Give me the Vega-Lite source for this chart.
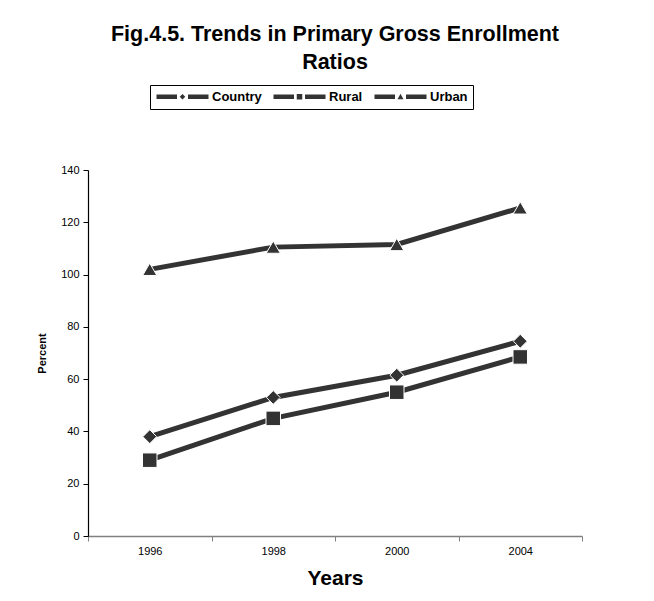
{
  "$schema": "https://vega.github.io/schema/vega-lite/v6.json",
  "width": 494,
  "height": 366,
  "autosize": {"type": "none"},
  "padding": {"left": 88, "top": 170, "right": 72, "bottom": 65},
  "background": "white",
  "title": {
    "text": ["Fig.4.5. Trends in Primary Gross Enrollment", "Ratios"],
    "font": "Liberation Sans",
    "fontSize": 21.5,
    "fontWeight": "bold",
    "lineHeight": 28,
    "color": "black",
    "anchor": "middle",
    "frame": "group",
    "offset": 11
  },
  "data": {
    "values": [
      {"year": "1996", "series": "Country", "value": 38},
      {"year": "1998", "series": "Country", "value": 53},
      {"year": "2000", "series": "Country", "value": 61.5},
      {"year": "2004", "series": "Country", "value": 74.5},
      {"year": "1996", "series": "Rural", "value": 29},
      {"year": "1998", "series": "Rural", "value": 45},
      {"year": "2000", "series": "Rural", "value": 55},
      {"year": "2004", "series": "Rural", "value": 68.5},
      {"year": "1996", "series": "Urban", "value": 102},
      {"year": "1998", "series": "Urban", "value": 110.5},
      {"year": "2000", "series": "Urban", "value": 111.5},
      {"year": "2004", "series": "Urban", "value": 125.5}
    ]
  },
  "encoding": {
    "x": {
      "field": "year",
      "type": "ordinal",
      "sort": null,
      "scale": {"paddingInner": 0, "paddingOuter": 0},
      "axis": {
        "title": "Years",
        "titleFont": "Liberation Sans",
        "titleFontSize": 21,
        "titleFontWeight": "bold",
        "titleColor": "black",
        "titlePadding": 11,
        "labelFont": "Liberation Sans",
        "labelFontSize": 11,
        "labelColor": "black",
        "labelAngle": 0,
        "labelPadding": 4,
        "tickBand": "extent",
        "tickSize": 5,
        "tickColor": "#808080",
        "domainColor": "#808080",
        "domainWidth": 1.5,
        "grid": false
      }
    },
    "y": {
      "field": "value",
      "type": "quantitative",
      "scale": {"domain": [0, 140], "nice": false},
      "axis": {
        "title": "Percent",
        "titleFont": "Liberation Sans",
        "titleFontSize": 11,
        "titleFontWeight": "bold",
        "titleColor": "black",
        "titlePadding": 13,
        "values": [0, 20, 40, 60, 80, 100, 120, 140],
        "labelFont": "Liberation Sans",
        "labelFontSize": 11,
        "labelColor": "black",
        "labelPadding": 4,
        "tickSize": 5,
        "tickColor": "black",
        "domainColor": "black",
        "domainWidth": 1.2,
        "grid": false
      }
    }
  },
  "layer": [
    {
      "mark": {"type": "line", "strokeWidth": 5},
      "encoding": {
        "color": {
          "field": "series",
          "type": "nominal",
          "scale": {"domain": ["Country", "Rural", "Urban"], "range": ["#333333", "#333333", "#333333"]},
          "legend": {
            "title": null,
            "orient": "none",
            "direction": "horizontal",
            "legendX": 62,
            "legendY": -85,
            "strokeColor": "black",
            "fillColor": "white",
            "padding": 5,
            "labelFont": "Liberation Sans",
            "labelFontSize": 13,
            "labelFontWeight": "bold",
            "labelColor": "black",
            "symbolSize": 100,
            "symbolType": "square",
            "symbolFillColor": "#333333",
            "symbolStrokeWidth": 0,
            "symbolOffset": 21,
            "labelOffset": 23,
            "columnPadding": 10,
            "encode": {
              "symbols": {
                "update": {
                  "shape": {"signal": "datum.value === 'Country' ? 'M-5.2,-0.45H-1.1V0.45H-5.2Z M1.1,-0.45H5.2V0.45H1.1Z M0,-0.55L0.55,0L0,0.55L-0.55,0Z' : datum.value === 'Rural' ? 'M-5.2,-0.45H-1.1V0.45H-5.2Z M1.1,-0.45H5.2V0.45H1.1Z M-0.55,-0.55H0.55V0.55H-0.55Z' : 'M-5.2,-0.45H-1.1V0.45H-5.2Z M1.1,-0.45H5.2V0.45H1.1Z M0,-0.6L0.6,0.5H-0.6Z'"},
                  "fill": {"value": "#333333"},
                  "strokeWidth": {"value": 0}
                }
              }
            }
          }
        }
      }
    },
    {
      "transform": [{"filter": "datum.series === 'Country'"}],
      "mark": {"type": "point", "shape": "diamond", "filled": true, "opacity": 1, "fill": "#333333", "stroke": "white", "strokeWidth": 1, "size": 190}
    },
    {
      "transform": [{"filter": "datum.series === 'Rural'"}],
      "mark": {"type": "point", "shape": "square", "filled": true, "opacity": 1, "fill": "#333333", "stroke": "white", "strokeWidth": 1, "size": 210}
    },
    {
      "transform": [{"filter": "datum.series === 'Urban'"}],
      "mark": {"type": "point", "shape": "triangle-up", "filled": true, "opacity": 1, "fill": "#333333", "stroke": "white", "strokeWidth": 1, "size": 200}
    }
  ],
  "config": {
    "view": {"stroke": null},
    "font": "Liberation Sans"
  }
}
